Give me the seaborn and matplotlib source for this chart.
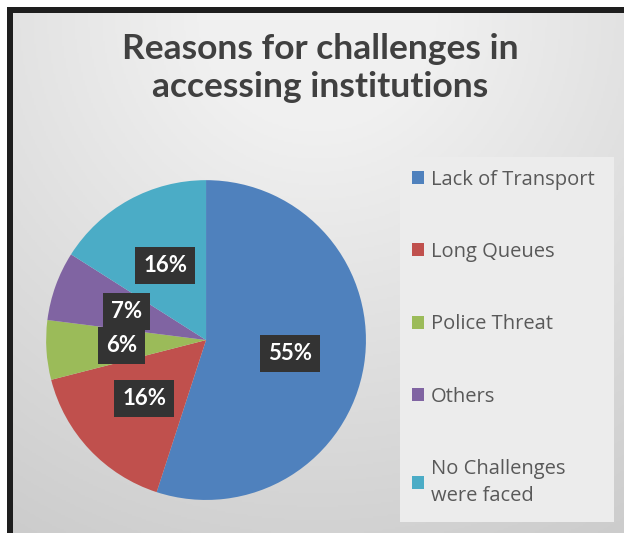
import numpy as np
import matplotlib.pyplot as plt
import seaborn as sns
from matplotlib.patches import Rectangle

reasons = ["Lack of Transport", "Long Queues", "Police Threat", "Others",
           "No Challenges\nwere faced"]
shares = [55, 16, 6, 7, 16]
colors = ["#4F81BD", "#C0504D", "#9BBB59", "#8064A2", "#4BACC6"]

sns.set_theme(style="white")
plt.rcParams["font.family"] = ["Lato", "DejaVu Sans"]

fig = plt.figure(figsize=(6.24, 5.33), dpi=100)
fig.patch.set_facecolor("white")

# gradient background panel
bg = fig.add_axes([0, 0, 1, 1], zorder=-2)
yy, xx = np.mgrid[0:1:300j, 0:1:300j]
dist = np.sqrt(((xx - 0.5) * 1.1) ** 2 + (yy * 0.95) ** 2)
bg.imshow(dist, cmap=sns.light_palette("#c8c8c8", as_cmap=True, reverse=False),
          vmin=0.2, vmax=1.2, extent=[0.018, 1, 0, 0.975], aspect="auto",
          origin="upper")
bg.add_patch(Rectangle((0.011, 0), 0.0096, 0.9865, color="#1e1e1e", lw=0))
bg.add_patch(Rectangle((0.011, 0.975), 0.989, 0.0115, color="#1e1e1e", lw=0))
bg.add_patch(Rectangle((0.641, 0.021), 0.343, 0.685, color="#ececec", lw=0))
bg.set_xlim(0, 1)
bg.set_ylim(0, 1)
bg.axis("off")

ax = fig.add_axes([0.0737, 0.062, 0.513, 0.600])
wedges, texts, autotexts = ax.pie(
    shares, colors=colors, startangle=90, counterclock=False,
    autopct="%d%%", pctdistance=0.53,
    textprops=dict(color="white", fontsize=16, fontweight="bold"),
    wedgeprops=dict(linewidth=0),
)
for t in autotexts:
    t.set_bbox(dict(boxstyle="square,pad=0.36", fc="#333333", ec="none"))
ax.set_xlim(-1, 1)
ax.set_ylim(-1, 1)
ax.set_aspect("equal")

fig.text(0.513, 0.872, "Reasons for challenges in\naccessing institutions",
         ha="center", va="center", fontsize=25.5, fontweight="bold",
         color="#404040", linespacing=1.25)

leg = fig.legend(wedges, reasons, loc="upper left",
                 bbox_to_anchor=(0.648, 0.697), frameon=False,
                 prop=dict(family="Open Sans", size=14.5), labelspacing=2.6,
                 handlelength=0.6, handleheight=0.6, handletextpad=0.3,
                 borderaxespad=0)
for t in leg.get_texts():
    t.set_color("#595959")
    t.set_linespacing(1.45)

fig.savefig("out.png", dpi=100)
